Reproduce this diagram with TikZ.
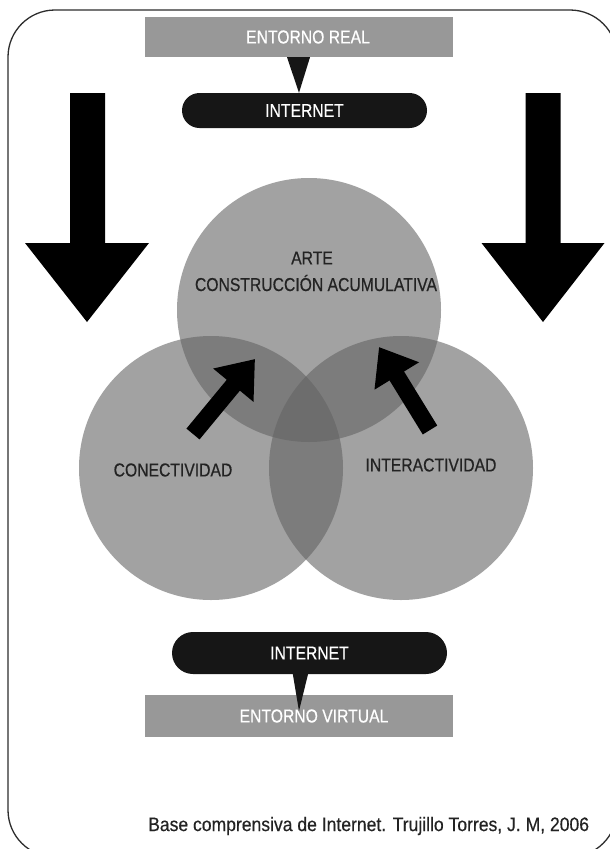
\documentclass[tikz,border=0pt]{standalone}
\usepackage{fontspec}
\setmainfont{Liberation Sans}
\newfontfamily\labfont[FakeStretch=0.84,FakeBold=0.5]{Liberation Sans}
\newfontfamily\footfont[FakeStretch=0.9,FakeBold=0.4]{Liberation Sans}
\usetikzlibrary{shapes.misc,arrows.meta,calc}
\definecolor{boxgray}{RGB}{152,152,152}
\definecolor{pillblack}{RGB}{22,22,22}
\definecolor{vennfill}{RGB}{100,100,100}
\definecolor{labtext}{RGB}{35,35,35}
\definecolor{framecol}{RGB}{45,45,45}
\begin{document}
\begin{tikzpicture}[x=1pt,y=-1pt,
  graybox/.style={rectangle, fill=boxgray, minimum width=308pt, inner sep=0pt, text=white, font={\labfont\fontsize{18.7}{21}\selectfont}},
  pill/.style={rounded rectangle, fill=pillblack, inner sep=0pt, text=white, font={\labfont\fontsize{18.7}{21}\selectfont}},
  venn/.style={circle, minimum size=264pt, inner sep=0pt, fill=vennfill, fill opacity=0.6},
  labtxt/.style={inner sep=0pt, text=labtext, font={\labfont\fontsize{18.7}{21}\selectfont}},
  foot/.style={inner sep=0pt, text=labtext, font={\footfont\fontsize{19.5}{22}\selectfont}},
  bigarrow/.style={fill=black},
  smallarrow/.style={draw=black, line width=17pt, -{Triangle[length=34pt,width=50pt]}}
]
\useasboundingbox (0,0) rectangle (610,849);
\fill[white] (0,0) rectangle (610,849);
% frame
\draw[framecol, line width=1.3pt, rounded corners=47pt] (8,10) rectangle (617,857);

% big arrows
\fill[bigarrow] (70,93) -- (105,93) -- (105,243) -- (149,243) -- (87,322) -- (25,243) -- (70,243) -- cycle;
\fill[bigarrow] (525.5,93) -- (560.5,93) -- (560.5,243) -- (604.5,243) -- (543,322) -- (481.5,243) -- (525.5,243) -- cycle;

% top boxes
\node[graybox, minimum height=40pt] (real) at (299,37) {\hspace*{18pt}ENTORNO REAL};
\node[pill, minimum width=245pt, minimum height=35pt] (inet1) at (304.5,110.5) {INTERNET};
\fill[pillblack] ($(real.south)+(-12,0)$) -- ($(real.south)+(11,0)$) -- (real.south |- inet1.north) -- cycle;

% venn circles
\node[venn] (arte) at (309,310) {};
\node[venn] (conect) at (211,468) {};
\node[venn] (interact) at (401,468) {};

% small arrows
\coordinate (a1s) at (193,434);
\coordinate (a1e) at (255,359);
\coordinate (a2s) at (430,430);
\coordinate (a2e) at (379,347);
\draw[smallarrow] (a1s) -- (a1e);
\draw[smallarrow] (a2s) -- (a2e);

% labels
\node[labtxt] (artetxt) at (312,258) {ARTE};
\node[labtxt] (constr) at (316,283) {CONSTRUCCIÓN ACUMULATIVA};
\node[labtxt] (conectxt) at (173,470) {CONECTIVIDAD};
\node[labtxt] (intertxt) at (431,465) {INTERACTIVIDAD};

% bottom boxes
\node[pill, minimum width=275pt, minimum height=42pt] (inet2) at (309.5,653) {INTERNET};
\node[graybox, minimum height=42pt] (virt) at (299,716) {\hspace*{30pt}ENTORNO VIRTUAL};
\coordinate (vtip) at (299,711);
\fill[pillblack] ($(inet2.south)+(-17,-2)$) -- ($(inet2.south)+(-1,-2)$) -- (vtip) -- cycle;

% footer
\node[foot, anchor=west] (src) at (148,826) {Base comprensiva de Internet. Trujillo Torres, J. M, 2006};
\end{tikzpicture}
\end{document}
